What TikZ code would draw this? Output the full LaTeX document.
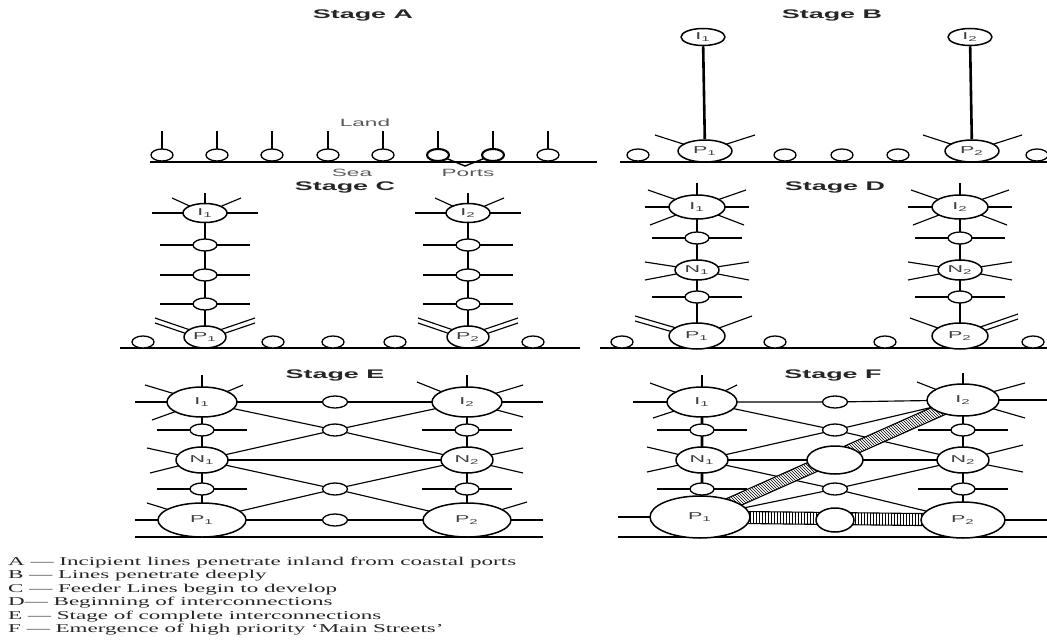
\documentclass[tikz,border=0pt]{standalone}
\usepackage{fontspec}
\setmainfont{Liberation Serif}
\setsansfont{Liberation Sans}
\usetikzlibrary{shapes.geometric,patterns,backgrounds,calc}
\newcommand{\wide}[1]{\scalebox{2.15}[1]{#1}}
\newcommand{\widelegend}[1]{\scalebox{1.92}[1]{#1}}
\newcommand{\spokes}[2]{\foreach \dx/\dy in {#2} {\draw[feeder] (#1.center) -- +(\dx,\dy);}}
\newcommand{\dblspoke}[3]{\draw[feeder] ($(#1.center)+(0,-2)$) -- +(#2,#3); \draw[feeder] ($(#1.center)+(0,3)$) -- +(#2,#3);}
\tikzset{
  hub/.style={ellipse,draw,fill=white,line width=1.5pt,inner sep=0pt,font=\sffamily\fontsize{10}{10}\selectfont,text=black!75},
  stop/.style={ellipse,draw,fill=white,line width=1.3pt,minimum width=22pt,minimum height=12pt,inner sep=0pt},
  trunk/.style={line width=2.6pt},
  feeder/.style={line width=1.15pt},
  coast/.style={line width=1.5pt},
  band/.style={draw,line width=1.1pt,preaction={fill=white}},
  stagetitle/.style={font=\sffamily\bfseries\fontsize{12.5}{13}\selectfont,text=black!85},
  coastlabel/.style={font=\sffamily\fontsize{10.5}{11}\selectfont,text=black!65},
  legend/.style={anchor=west,inner sep=0pt,font=\fontsize{12}{12}\selectfont,text=black!85}
}
\begin{document}
\begin{tikzpicture}[x=1pt,y=-1pt,line join=round,line cap=round]
\useasboundingbox (0,0) rectangle (1047,642);

% ---------- Stage A
\node[stagetitle] (tA) at (363,15) {\wide{Stage A}};
\foreach \i/\x/\w in {1/162/1.3,2/217/1.3,3/272/1.3,4/328/1.3,5/383/1.3,6/438/2.1,7/493/2.1,8/548/1.3}
  \node[stop,line width=\w pt] (a\i) at (\x,155) {};
\node[coastlabel] (land) at (365,123) {\wide{Land}};
\node[coastlabel] (sea) at (352,173) {\wide{Sea}};
\node[coastlabel] (ports) at (468,173) {\wide{Ports}};
\coordinate (aW) at (150,162); \coordinate (aE) at (597,162);
\coordinate (dip) at (465,166);

% ---------- Stage B
\node[stagetitle] (tB) at (832,15) {\wide{Stage B}};
\node[hub,minimum width=44pt,minimum height=17pt] (bI1) at (703,37) {\wide{I\textsubscript{1}}};
\node[hub,minimum width=44pt,minimum height=17pt] (bI2) at (970,37) {\wide{I\textsubscript{2}}};
\node[hub,minimum width=54pt,minimum height=22pt] (bP1) at (705,151) {\wide{P\textsubscript{1}}};
\node[hub,minimum width=54pt,minimum height=22pt] (bP2) at (972,151) {\wide{P\textsubscript{2}}};
\foreach \i/\x in {1/638,2/785,3/842,4/898,5/1037}
  \node[stop] (b\i) at (\x,155) {};
\coordinate (bW) at (620,162); \coordinate (bE) at (1047,162);

% ---------- Stage C
\node[stagetitle] (tC) at (345,187) {\wide{Stage C}};
\foreach \c/\x in {1/205,2/468}{
  \node[hub,minimum width=44pt,minimum height=19pt] (cI\c) at (\x,213) {\wide{I\textsubscript{\c}}};
  \node[stop,minimum width=24pt] (cJ\c1) at (\x,245) {};
  \node[stop,minimum width=24pt] (cJ\c2) at (\x,275) {};
  \node[stop,minimum width=24pt] (cJ\c3) at (\x,304) {};
  \node[hub,minimum width=42pt,minimum height=22pt] (cP\c) at (\x,337) {\wide{P\textsubscript{\c}}};
}
\foreach \i/\x in {1/143,2/273,3/333,4/395,5/533}
  \node[stop] (c\i) at (\x,342) {};
\coordinate (cW) at (120,348); \coordinate (cE) at (580,348);

% ---------- Stage D
\node[stagetitle] (tD) at (835,187) {\wide{Stage D}};
\foreach \c/\x in {1/697,2/960}{
  \node[hub,minimum width=56pt,minimum height=24pt] (dI\c) at (\x,207) {\wide{I\textsubscript{\c}}};
  \node[stop,minimum width=24pt] (dJ\c1) at (\x,238) {};
  \node[hub,minimum width=44pt,minimum height=20pt] (dN\c) at (\x,270) {\wide{N\textsubscript{\c}}};
  \node[stop,minimum width=24pt] (dJ\c2) at (\x,297) {};
  \node[hub,minimum width=56pt,minimum height=26pt] (dP\c) at (\x,336) {\wide{P\textsubscript{\c}}};
}
\foreach \i/\x in {1/622,2/775,3/885,4/1033}
  \node[stop] (d\i) at (\x,342) {};
\coordinate (dW) at (600,348); \coordinate (dE) at (1047,348);

% ---------- Stage E
\node[stagetitle] (tE) at (335,375) {\wide{Stage E}};
\foreach \c/\x in {1/202,2/467}{
  \node[hub,minimum width=70pt,minimum height=30pt] (eI\c) at (\x,402) {\wide{I\textsubscript{\c}}};
  \node[stop,minimum width=24pt] (eJ\c1) at (\x,430) {};
  \node[hub,minimum width=52pt,minimum height=26pt] (eN\c) at (\x,460) {\wide{N\textsubscript{\c}}};
  \node[stop,minimum width=24pt] (eJ\c2) at (\x,489) {};
  \node[hub,minimum width=88pt,minimum height=34pt] (eP\c) at (\x,520) {\wide{P\textsubscript{\c}}};
}
\node[stop,minimum width=25pt] (eM1) at (335,402) {};
\node[stop,minimum width=25pt] (eX1) at (335,430) {};
\node[stop,minimum width=25pt] (eX2) at (335,489) {};
\node[stop,minimum width=25pt] (eM2) at (335,520) {};
\coordinate (eW) at (135,537); \coordinate (eE) at (543,537);

% ---------- Stage F
\node[stagetitle] (tF) at (833,375) {\wide{Stage F}};
\node[hub,minimum width=70pt,minimum height=30pt] (fI1) at (702,402) {\wide{I\textsubscript{1}}};
\node[hub,minimum width=72pt,minimum height=32pt] (fI2) at (963,400) {\wide{I\textsubscript{2}}};
\foreach \c/\x in {1/702,2/963}{
  \node[stop,minimum width=24pt] (fJ\c1) at (\x,430) {};
  \node[hub,minimum width=52pt,minimum height=26pt] (fN\c) at (\x,460) {\wide{N\textsubscript{\c}}};
  \node[stop,minimum width=24pt] (fJ\c2) at (\x,489) {};
}
\node[hub,minimum width=100pt,minimum height=42pt] (fP1) at (700,517) {\wide{P\textsubscript{1}}};
\node[hub,minimum width=84pt,minimum height=36pt] (fP2) at (963,520) {\wide{P\textsubscript{2}}};
\node[stop,minimum width=25pt] (fM1) at (835,402) {};
\node[stop,minimum width=25pt] (fX1) at (835,430) {};
\node[hub,minimum width=56pt,minimum height=28pt] (fBM) at (835,460) {};
\node[stop,minimum width=25pt] (fX2) at (835,489) {};
\node[hub,minimum width=38pt,minimum height=24pt] (fBB) at (835,520) {};
\coordinate (fW) at (618,537); \coordinate (fE) at (1047,537);

% ---------- legend
\node[legend] (lA) at (8,563) {\widelegend{A — Incipient lines penetrate inland from coastal ports}};
\node[legend] (lB) at (8,576) {\widelegend{B — Lines penetrate deeply}};
\node[legend] (lC) at (8,590) {\widelegend{C — Feeder Lines begin to develop}};
\node[legend] (lD) at (8,603) {\widelegend{D— Beginning of interconnections}};
\node[legend] (lE) at (8,617) {\widelegend{E — Stage of complete interconnections}};
\node[legend] (lF) at (8,630) {\widelegend{F — Emergence of high priority ‘Main Streets’}};

% ---------- lines under the nodes
\begin{scope}[on background layer]
  % coasts
  \draw[coast] (aW) -- (aE) (bW) -- (bE) (cW) -- (cE) (dW) -- (dE) (eW) -- (eE) (fW) -- (fE);
  % A
  \foreach \i in {1,...,8} \draw[line width=2.2pt] (a\i.center) -- +(0,-24);
  \draw[line width=1.4pt] (a6.center) -- (dip) -- (a7.center);
  % B
  \draw[trunk] (bI1) -- (bP1) (bI2) -- (bP2);
  \spokes{bP1}{-50/-16,50/-16}
  \spokes{bP2}{-49/-16,50/-16}
  % C
  \foreach \c in {1,2}{
    \draw[trunk] (cI\c.center) -- (cJ\c1.center) -- (cJ\c2.center) -- (cJ\c3.center) -- (cP\c.center);
    \spokes{cI\c}{-53/0,53/0,0/-20,-33/-15,36/-15}
    \spokes{cJ\c1}{-45/0,45/0}
    \spokes{cJ\c2}{-45/0,45/0}
    \spokes{cJ\c3}{-45/0,45/0}
    \dblspoke{cP\c}{-50}{-17}
    \dblspoke{cP\c}{50}{-17}
  }
  % D
  \foreach \c in {1,2}{
    \draw[trunk] (dI\c.center) -- (dJ\c1.center) -- (dN\c.center) -- (dJ\c2.center) -- (dP\c.center);
    \spokes{dI\c}{0/-24,-52/0,52/0,-49/-17,49/-17,-47/18,47/18}
    \spokes{dJ\c1}{-45/0,45/0}
    \spokes{dN\c}{-52/-8,-52/10,52/-8,52/10}
    \spokes{dJ\c2}{-45/0,45/0}
  }
  \dblspoke{dP1}{-62}{-18}
  \spokes{dP1}{55/-20}
  \spokes{dP2}{-50/-18}
  \dblspoke{dP2}{58}{-20}
  % E
  \foreach \c in {1,2}{
    \draw[trunk] (eI\c.center) -- (eJ\c1.center) -- (eN\c.center) -- (eJ\c2.center) -- (eP\c.center);
    \spokes{eJ\c1}{-45/0,45/0}
    \spokes{eJ\c2}{-45/0,45/0}
  }
  \spokes{eI1}{0/-27,-67/0,-57/-17,-50/18,41/-17}
  \spokes{eI2}{0/-27,76/0,56/-17,56/15,-50/-20}
  \spokes{eN1}{-55/-12,-52/13}
  \spokes{eN2}{56/-12,56/13}
  \spokes{eP1}{-67/0,-55/-17}
  \spokes{eP2}{76/0,60/-18}
  \draw[feeder] (eI1.center) -- (eM1.center) -- (eI2.center);
  \draw[feeder] (eI1.center) -- (eX1.center) -- (eN2.center);
  \draw[feeder] (eN1.center) -- (eX1.center) -- (eI2.center);
  \draw[feeder] (eN1.center) -- (eN2.center);
  \draw[feeder] (eN1.center) -- (eX2.center) -- (eP2.center);
  \draw[feeder] (eP1.center) -- (eX2.center) -- (eN2.center);
  \draw[feeder] (eP1.center) -- (eM2.center) -- (eP2.center);
  % F
  \foreach \c in {1,2}{
    \draw[trunk] (fI\c.center) -- (fJ\c1.center) -- (fN\c.center) -- (fJ\c2.center) -- (fP\c.center);
    \spokes{fJ\c1}{-45/0,45/0}
    \spokes{fJ\c2}{-45/0,45/0}
  }
  \spokes{fI1}{0/-27,-69/0,-52/-19,-49/16,35/-17}
  \spokes{fI2}{0/-27,84/0,62/-17,62/18,-46/-18}
  \spokes{fN1}{-55/-13,-55/12}
  \spokes{fN2}{60/-15,60/12}
  \spokes{fP1}{-82/0}
  \spokes{fP2}{84/0}
  \draw[feeder] (fI1.center) -- (fM1.center) -- (fI2.center);
  \draw[feeder] (fI1.center) -- (fX1.center) -- (fN2.center);
  \draw[feeder] (fN1.center) -- (fX1.center) -- (fI2.center);
  \draw[feeder] (fN1.center) -- (fBM.center) -- (fN2.center);
  \draw[feeder] (fN1.center) -- (fX2.center) -- (fP2.center);
  \draw[feeder] (fP1.center) -- (fX2.center) -- (fN2.center);
  % main streets
  \path[band,pattern=north west lines]
    ($(fP1)!6pt!90:(fI2)$) -- ($(fI2)!6pt!-90:(fP1)$) -- ($(fI2)!6pt!90:(fP1)$) -- ($(fP1)!6pt!-90:(fI2)$) -- cycle;
  \path[band,pattern=vertical lines]
    ($(fP1)!6pt!90:(fP2)$) -- ($(fP2)!6pt!-90:(fP1)$) -- ($(fP2)!6pt!90:(fP1)$) -- ($(fP1)!6pt!-90:(fP2)$) -- cycle;
\end{scope}
\end{tikzpicture}
\end{document}
